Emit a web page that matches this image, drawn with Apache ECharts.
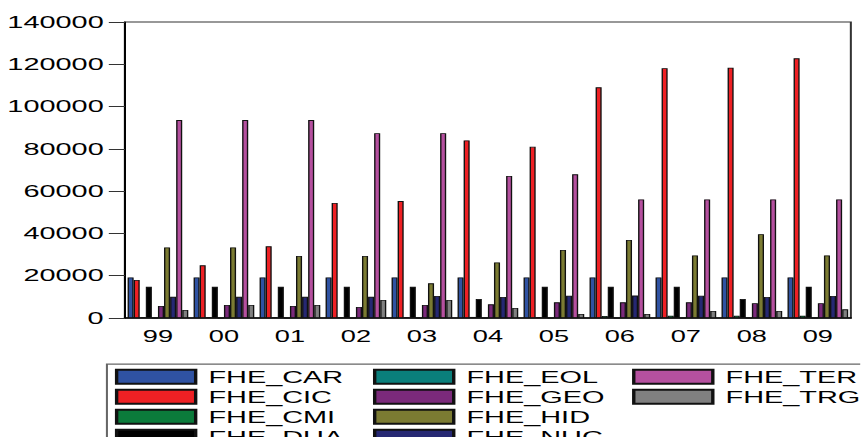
<!DOCTYPE html>
<html>
<head>
<meta charset="utf-8">
<script src="https://cdn.jsdelivr.net/npm/echarts@6/dist/echarts.min.js"></script>
<style>
html,body{margin:0;padding:0;background:#fff;overflow:hidden;}
#c{width:506.47px;height:437px;transform:scaleX(1.7);transform-origin:0 0;}
</style>
</head>
<body>
<div id="c"></div>
<script>
const categories = ['99','00','01','02','03','04','05','06','07','08','09'];
const FHE_CAR = [19200,19200,19200,19200,19200,19200,19200,19200,19200,19200,19200];
const FHE_CIC = [18000,24900,33900,54400,55300,84000,81000,109100,118100,118400,122800];
const FHE_CMI = [300,300,300,300,300,500,300,1000,1100,1100,1100];
const FHE_DUA = [14800,14800,14800,14800,14800,9000,14800,14800,14800,9000,14800];
const FHE_EOL = [0,0,0,0,0,0,0,0,0,0,0];
const FHE_GEO = [5700,6150,5700,5200,6150,6450,7400,7400,7400,6950,6950];
const FHE_HID = [33400,33400,29300,29300,16400,26300,32150,36900,29600,39600,29600];
const FHE_NUC = [10000,10000,10000,10000,10400,9900,10550,10600,10500,9900,10400];
const FHE_TER = [93600,93600,93600,87350,87350,67150,67950,56100,56100,56100,56100];
const FHE_TRG = [3800,6150,6150,8500,8500,4700,1900,1900,3300,3300,4100];
const yTicks = {min: 0, max: 140000, interval: 20000};

const seriesNames = ['FHE_CAR','FHE_CIC','FHE_CMI','FHE_DUA','FHE_EOL','FHE_GEO','FHE_HID','FHE_NUC','FHE_TER','FHE_TRG'];
const seriesData = [FHE_CAR,FHE_CIC,FHE_CMI,FHE_DUA,FHE_EOL,FHE_GEO,FHE_HID,FHE_NUC,FHE_TER,FHE_TRG];
const colors = ['#2f52a2','#ee2024','#0b7b3b','#000000','#0a7f7b','#7b2a7b','#7b7b32','#262873','#b5509f','#808080'];

const FONT = '"Liberation Sans", Arial, sans-serif';
const chart = echarts.init(document.getElementById('c'), null, {renderer: 'svg'});

const legendStyle = {
  orient: 'vertical', padding: 0, itemGap: 3, itemWidth: 46.5, itemHeight: 14, icon: 'rect',
  height: 120,
  textStyle: {fontFamily: FONT, fontSize: 17, color: '#000', lineHeight: 14, padding: [0,0,0,2.5]},
  selectedMode: false
};

chart.setOption({
  animation: false,
  color: colors,
  grid: {left: 73.5, right: 5.5, top: 22, height: 296, show: true, borderColor: '#333', borderWidth: 1.2, containLabel: false},
  xAxis: {
    type: 'category', data: categories,
    axisLine: {lineStyle: {color: '#000', width: 1.5}},
    axisTick: {alignWithLabel: true, length: 7, lineStyle: {color: '#000', width: 1.2}},
    axisLabel: {fontFamily: FONT, fontSize: 16, color: '#000', margin: 11}
  },
  yAxis: {
    type: 'value', min: yTicks.min, max: yTicks.max, interval: yTicks.interval,
    axisLine: {show: true, lineStyle: {color: '#000', width: 1.2}},
    axisTick: {show: true, length: 9.5, lineStyle: {color: '#333', width: 1}},
    splitLine: {show: false},
    axisLabel: {fontFamily: FONT, fontSize: 17, color: '#000', margin: 12.5, formatter: v => String(v)}
  },
  legend: [
    Object.assign({left: 67.6, top: 368.3, data: seriesNames.slice(0,4)}, legendStyle),
    Object.assign({left: 219.4, top: 368.3, data: seriesNames.slice(4,8)}, legendStyle),
    Object.assign({left: 371.8, top: 368.3, data: seriesNames.slice(8,10)}, legendStyle)
  ],
  graphic: [{
    type: 'rect', left: 60.4, top: 361.7, z: -1,
    shape: {width: 500, height: 120},
    style: {fill: 'none', stroke: '#666', lineWidth: 1.2}
  }],
  series: seriesNames.map((n, i) => ({
    name: n, type: 'bar', data: seriesData[i],
    barGap: '0%', barCategoryGap: '8%',
    itemStyle: {color: colors[i], borderColor: '#111', borderWidth: 0.8}
  }))
});
</script>
</body>
</html>
